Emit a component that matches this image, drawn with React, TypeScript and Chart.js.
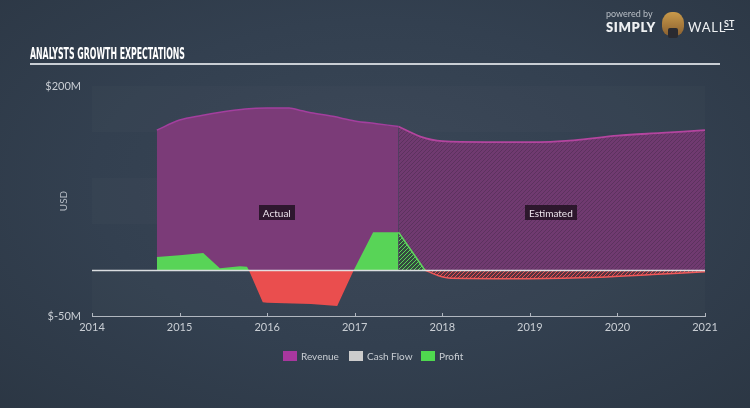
import React, { useEffect, useRef } from "react";
import { Chart, registerables } from "chart.js";

Chart.register(...registerables);

// ---------- data ----------
const yearTicks = [2014, 2015, 2016, 2017, 2018, 2019, 2020, 2021];
const yTickValues = [-50, 200];
const yTickLabels = ["$-50M", "$200M"];

const revenueActualYears = [2014.74, 2015.0, 2015.25, 2015.5, 2015.75, 2016.0, 2016.25, 2016.4, 2016.5, 2016.75, 2017.0, 2017.25, 2017.5];
const revenueActualValues = [152, 163, 168, 172, 175, 176, 176, 173, 171, 167, 162, 159, 156];

const revenueEstYears = [2017.5, 2017.75, 2018.0, 2018.5, 2019.0, 2019.5, 2020.0, 2020.5, 2021.0];
const revenueEstValues = [156, 145, 140, 139, 139, 141, 146, 149, 152];

const profitActualYears = [2014.74, 2015.0, 2015.27, 2015.46, 2015.69, 2015.77, 2015.79, 2015.95, 2016.0, 2016.5, 2016.8, 2016.99, 2017.21, 2017.5];
const profitActualValues = [14, 16, 18.5, 2, 4, 3.5, 0, -35, -35.5, -37, -39, 0, 41, 41];

const profitEstGainYears = [2017.5, 2017.8];
const profitEstGainValues = [41, 0];
const profitEstLossYears = [2017.8, 2017.95, 2018.1, 2019.0, 2019.8, 2020.4, 2021.0];
const profitEstLossValues = [0, -6, -9, -9.5, -8, -5, -2];

const legendLabels = ["Revenue", "Cash Flow", "Profit"];
const legendColors = ["#a8379e", "#cccccc", "#4fd94f"];

const periodLabels = ["Actual", "Estimated"];
const periodLabelYears = [2016.11, 2019.24];
const periodLabelValue = 62;

const titleText = "ANALYSTS GROWTH EXPECTATIONS";

// ---------- helpers ----------
function hatch(base: string, stripe: string, size = 4): CanvasPattern | string {
  const c = document.createElement("canvas");
  c.width = size;
  c.height = size;
  const g = c.getContext("2d");
  if (!g) return base;
  g.fillStyle = base;
  g.fillRect(0, 0, size, size);
  g.strokeStyle = stripe;
  g.lineWidth = 1;
  g.beginPath();
  g.moveTo(0, size);
  g.lineTo(size, 0);
  g.moveTo(-1, 1);
  g.lineTo(1, -1);
  g.moveTo(size - 1, size + 1);
  g.lineTo(size + 1, size - 1);
  g.stroke();
  const p = g.createPattern(c, "repeat");
  return p || base;
}

const GREEN = "#58d457";
const RED = "#ea4e4e";

const bandsPlugin = {
  id: "bands",
  beforeDatasetsDraw(chart: any) {
    const { ctx, chartArea, scales } = chart;
    const y = scales.y;
    ctx.save();
    const edges = [200, 150, 100, 50, 0, -50];
    for (let i = 0; i < edges.length - 1; i++) {
      if (i % 2 !== 0) continue;
      const top = y.getPixelForValue(edges[i]);
      const bot = y.getPixelForValue(edges[i + 1]);
      ctx.fillStyle = "rgba(255,255,255,0.016)";
      ctx.fillRect(chartArea.left, top, chartArea.right - chartArea.left, bot - top);
    }
    ctx.restore();
  },
};

const overlayPlugin = {
  id: "overlay",
  afterDatasetsDraw(chart: any) {
    const { ctx, chartArea, scales } = chart;
    const x = scales.x;
    const y = scales.y;
    ctx.save();
    // zero line
    const y0 = Math.round(y.getPixelForValue(0)) + 0.5;
    ctx.strokeStyle = "rgba(228,230,232,0.95)";
    ctx.lineWidth = 1.5;
    ctx.beginPath();
    ctx.moveTo(chartArea.left, y0);
    ctx.lineTo(chartArea.right, y0);
    ctx.stroke();
    // upward tick marks on the x axis
    ctx.strokeStyle = "rgba(200,205,212,0.85)";
    ctx.lineWidth = 1;
    yearTicks.forEach((v) => {
      const px = Math.round(x.getPixelForValue(v)) + 0.5;
      ctx.beginPath();
      ctx.moveTo(px, chartArea.bottom);
      ctx.lineTo(px, chartArea.bottom - 3);
      ctx.stroke();
    });
    // period labels
    ctx.font = '10px "Lato", "Open Sans", sans-serif';
    ctx.textBaseline = "middle";
    ctx.textAlign = "center";
    periodLabels.forEach((t, i) => {
      const cx = x.getPixelForValue(periodLabelYears[i]);
      const cy = y.getPixelForValue(periodLabelValue);
      const w = ctx.measureText(t).width + 8;
      const h = 15;
      ctx.fillStyle = "rgba(38,20,38,0.9)";
      ctx.fillRect(Math.round(cx - w / 2), Math.round(cy - h / 2), Math.round(w), h);
      ctx.fillStyle = "#ece4ec";
      ctx.fillText(t, cx, cy + 0.5);
    });
    ctx.restore();
  },
};

export default function App() {
  const canvasRef = useRef<HTMLCanvasElement | null>(null);
  const titleRef = useRef<HTMLSpanElement | null>(null);

  useEffect(() => {
    const el = titleRef.current;
    if (el) {
      el.style.transform = "none";
      const w = el.getBoundingClientRect().width;
      if (w > 0) el.style.transform = `scaleX(${155 / w})`;
    }
    const canvas = canvasRef.current;
    if (!canvas) return;

    const revEstPattern = hatch("#703a70", "#5c325e", 4);
    const greenEstPattern = hatch("#34493f", "#58d457", 4);
    const redEstPattern = hatch("#5a3340", "#e85050", 4);

    const chart = new Chart(canvas, {
      type: "line",
      data: {
        datasets: [
          {
            label: "Profit",
            data: profitActualYears.map((v, i) => ({ x: v, y: profitActualValues[i] })),
            borderWidth: 0,
            borderColor: GREEN,
            pointRadius: 0,
            tension: 0,
            fill: { target: "origin", above: GREEN, below: RED },
            order: 0,
          } as any,
          {
            label: "Profit est gain",
            data: profitEstGainYears.map((v, i) => ({ x: v, y: profitEstGainValues[i] })),
            borderWidth: 1.5,
            borderColor: "#5fd65e",
            backgroundColor: greenEstPattern,
            pointRadius: 0,
            tension: 0,
            fill: "origin",
            order: 0,
          } as any,
          {
            label: "Profit est loss",
            data: profitEstLossYears.map((v, i) => ({ x: v, y: profitEstLossValues[i] })),
            borderWidth: 1.5,
            borderColor: "#f05a5a",
            backgroundColor: redEstPattern,
            pointRadius: 0,
            cubicInterpolationMode: "monotone",
            fill: "origin",
            order: 0,
          } as any,
          {
            label: "Revenue",
            data: revenueActualYears.map((v, i) => ({ x: v, y: revenueActualValues[i] })),
            borderWidth: 1.5,
            borderColor: "#a33f9e",
            backgroundColor: "#7b3b78",
            pointRadius: 0,
            cubicInterpolationMode: "monotone",
            fill: "origin",
            order: 1,
          } as any,
          {
            label: "Revenue est",
            data: revenueEstYears.map((v, i) => ({ x: v, y: revenueEstValues[i] })),
            borderWidth: 1.8,
            borderColor: "#b4459f",
            backgroundColor: revEstPattern,
            pointRadius: 0,
            cubicInterpolationMode: "monotone",
            fill: "origin",
            order: 1,
          } as any,
        ],
      },
      options: {
        animation: false,
        responsive: false,
        devicePixelRatio: 1,
        layout: { padding: { top: 86, right: 45, bottom: 68, left: 0 } },
        plugins: {
          legend: { display: false },
          tooltip: { enabled: false },
        },
        scales: {
          x: {
            type: "linear",
            min: 2014,
            max: 2021,
            afterBuildTicks: (s: any) => {
              s.ticks = yearTicks.map((v) => ({ value: v }));
            },
            afterFit: (s: any) => {
              s.height = 24;
            },
            ticks: {
              autoSkip: false,
              maxRotation: 0,
              color: "#c9ced4",
              font: { size: 11, family: '"Lato", "Open Sans", sans-serif' },
              padding: 5,
              callback: (v: any) => String(v),
            },
            grid: {
              display: false,
              drawOnChartArea: false,
              drawTicks: false,
            },
            border: { display: true, color: "rgba(200,205,212,0.85)", width: 1 },
          },
          y: {
            type: "linear",
            min: -50,
            max: 200,
            afterBuildTicks: (s: any) => {
              s.ticks = yTickValues.map((v) => ({ value: v }));
            },
            afterFit: (s: any) => {
              s.width = 92;
            },
            ticks: {
              color: "#c9ced4",
              font: { size: 11, family: '"Lato", "Open Sans", sans-serif' },
              padding: 11,
              callback: (v: any) => {
                const i = yTickValues.indexOf(Number(v));
                return i >= 0 ? yTickLabels[i] : "";
              },
            },
            grid: { display: false, drawTicks: false },
            border: { display: false },
            title: {
              display: true,
              text: "USD",
              color: "#b8bec6",
              font: { size: 10, family: '"Lato", "Open Sans", sans-serif' },
              padding: { top: 58, bottom: 0 },
            },
          },
        },
      },
      plugins: [bandsPlugin, overlayPlugin],
    } as any);
    return () => chart.destroy();
  }, []);

  const legendPos = [283, 349, 421];

  return (
    <div
      style={{
        position: "absolute",
        left: 0,
        top: 0,
        width: 750,
        height: 408,
        overflow: "hidden",
        background:
          "radial-gradient(ellipse 75% 80% at 50% 45%, #3a4757 0%, #334050 50%, #2b3643 100%)",
        fontFamily: '"Lato", "Open Sans", sans-serif',
      }}
    >
      <canvas
        ref={canvasRef}
        width={750}
        height={408}
        style={{ position: "absolute", left: 0, top: 0, width: 750, height: 408 }}
      />
      {/* title */}
      <div style={{ position: "absolute", left: 30, top: 43, whiteSpace: "nowrap" }}>
        <span
          ref={titleRef}
          style={{
            display: "inline-block",
            transformOrigin: "left center",
            color: "#ffffff",
            fontWeight: 700,
            fontSize: 16,
            lineHeight: "18px",
            fontFamily: '"Liberation Sans Narrow", "DejaVu Sans Condensed", "Liberation Sans", sans-serif',
          }}
        >
          {titleText}
        </span>
      </div>
      <div
        style={{
          position: "absolute",
          left: 30,
          top: 63,
          width: 690,
          height: 1.5,
          background: "#c9ced4",
        }}
      />
      {/* logo */}
      <div style={{ position: "absolute", left: 606, top: 8, fontSize: 9, color: "#b9bfc6", lineHeight: "11px" }}>
        powered by
      </div>
      <div
        style={{
          position: "absolute",
          left: 606,
          top: 19,
          fontSize: 13,
          fontWeight: 800,
          color: "#eef0f2",
          letterSpacing: 0.6,
          lineHeight: "16px",
        }}
      >
        SIMPLY
      </div>
      <div
        style={{
          position: "absolute",
          left: 662,
          top: 12,
          width: 22,
          height: 24,
          borderRadius: "45% 45% 40% 40%",
          background: "linear-gradient(#c99a4a, #8a6030)",
        }}
      />
      <div
        style={{
          position: "absolute",
          left: 668,
          top: 28,
          width: 10,
          height: 10,
          background: "#2a2a30",
          borderRadius: 2,
        }}
      />
      <div
        style={{
          position: "absolute",
          left: 688,
          top: 19,
          fontSize: 13,
          fontWeight: 400,
          color: "#eef0f2",
          letterSpacing: 0.8,
          lineHeight: "16px",
        }}
      >
        WALL
      </div>
      <div
        style={{
          position: "absolute",
          left: 724,
          top: 18,
          fontSize: 9,
          fontWeight: 700,
          color: "#eef0f2",
          lineHeight: "11px",
          borderBottom: "1px solid #eef0f2",
        }}
      >
        ST
      </div>
      {/* legend */}
      {legendLabels.map((t, i) => (
        <div
          key={t}
          style={{
            position: "absolute",
            left: legendPos[i],
            top: 350,
            display: "flex",
            alignItems: "center",
            whiteSpace: "nowrap",
          }}
        >
          <span
            style={{
              display: "inline-block",
              width: 14,
              height: 10,
              background: legendColors[i],
              marginRight: 4,
            }}
          />
          <span style={{ fontSize: 10, color: "#c9ced4", lineHeight: "12px" }}>{t}</span>
        </div>
      ))}
    </div>
  );
}
